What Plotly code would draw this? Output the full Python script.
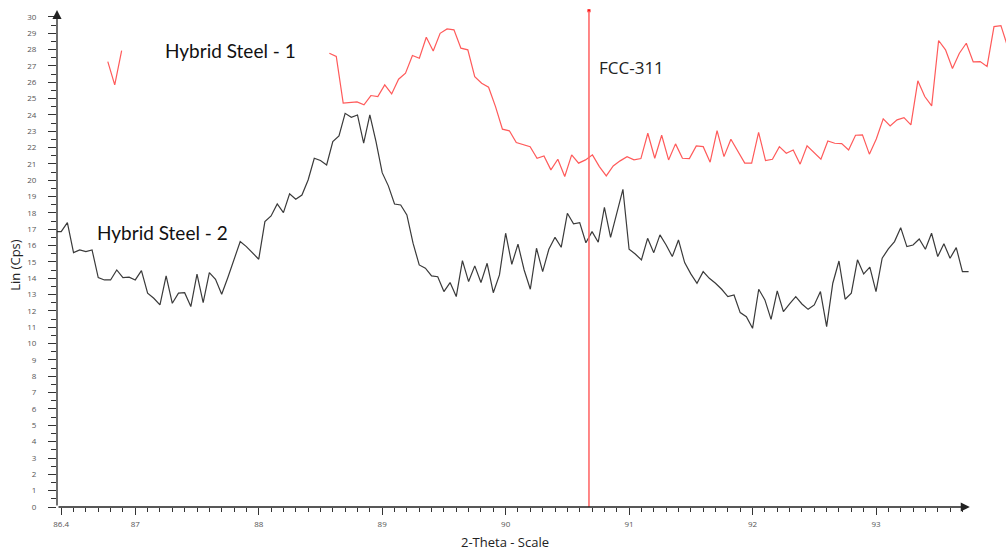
import plotly.graph_objects as go

# ---------------- data ----------------
# Hybrid Steel - 2 (black), regular 2-theta step
black_x0 = 86.35
black_step = 0.05
black_y = [16.86, 16.86, 17.41, 15.57, 15.74, 15.63, 15.74, 14.04, 13.9, 13.9,
           14.51, 14.04, 14.07, 13.9, 14.47, 13.09, 12.78, 12.37, 14.15, 12.47,
           13.09, 13.12, 12.27, 14.25, 12.51, 14.35, 13.94, 13.02, 14.05, 15.2,
           16.25, 15.94, 15.57, 15.17, 17.47, 17.82, 18.55, 18.02, 19.17, 18.84,
           19.1, 20.02, 21.35, 21.21, 20.94, 22.37, 22.72, 24.1, 23.86, 24.0,
           22.27, 24.0, 22.37, 20.47, 19.66, 18.55, 18.49, 17.88, 16.15, 14.82,
           14.62, 14.15, 14.1, 13.19, 13.74, 12.88, 15.08, 13.8, 14.76, 13.74,
           14.92, 13.12, 14.21, 16.76, 14.86, 16.09, 14.51, 13.33, 15.84, 14.41,
           15.78, 16.51, 15.9, 17.98, 17.33, 17.41, 16.18, 16.86, 16.21, 18.35,
           16.51, 17.98, 19.45, 15.78, 15.49, 15.13, 16.45, 15.57, 16.66, 16.04,
           15.33, 16.35, 14.96, 14.27, 13.7, 14.41, 14.0, 13.7, 13.33, 12.88,
           12.98, 11.9, 11.65, 10.94, 13.33, 12.68, 11.49, 13.23, 11.96, 12.43,
           12.88, 12.43, 12.1, 12.37, 13.19, 11.04, 13.7, 15.06, 12.72, 13.09,
           15.13, 14.27, 14.68, 13.19, 15.23, 15.8, 16.25, 17.1, 15.94, 16.04,
           16.41, 15.78, 16.76, 15.33, 16.11, 15.23, 15.88, 14.41, 14.41]

# Hybrid Steel - 1 (red), regular step, gap where hidden
red_x0 = 86.7775
red_step = 0.05608
red_y = ([27.27, 25.84, 27.94] + [None] * 29 +
         [27.78, 27.58, 24.72, 24.78, 24.8, 24.62, 25.19, 25.13, 25.84, 25.29,
          26.19, 26.56, 27.64, 27.47, 28.76, 27.92, 29.0, 29.27, 29.21, 28.09,
          27.99, 26.35, 25.94, 25.7, 24.51, 23.13, 23.03, 22.31, 22.17, 22.06,
          21.35, 21.49, 20.64, 21.29, 20.23, 21.56, 21.05, 21.25, 21.56, 20.84,
          20.27, 20.88, 21.19, 21.45, 21.25, 21.33, 22.88, 21.35, 22.76, 21.25,
          22.23, 21.35, 21.33, 22.11, 22.06, 21.11, 23.04, 21.45, 22.51, 21.76,
          21.05, 21.05, 22.94, 21.21, 21.29, 22.06, 21.66, 21.86, 20.99, 22.11,
          21.7, 21.29, 22.41, 22.27, 22.25, 21.86, 22.76, 22.78, 21.6, 22.53,
          23.76, 23.33, 23.7, 23.84, 23.39, 26.09, 25.13, 24.56, 28.56, 27.99,
          26.84, 27.78, 28.39, 27.25, 27.27, 26.97, 29.41, 29.47, 28.15])

fcc_pos = 90.675
fcc_top = 30.38

x_major_vals = [86.4, 86.5, 87, 87.5, 88, 88.5, 89, 89.5, 90, 90.5, 91, 91.5, 92, 92.5, 93, 93.5]
x_major_text = ["86.4", "", "87", "", "88", "", "89", "", "90", "", "91", "", "92", "", "93", ""]
x_minor_vals = [round(86.4 + 0.1 * k, 2) for k in range(0, 74)]
y_major_vals = list(range(0, 31))
y_minor_vals = [k + 0.5 for k in range(0, 30)]

x_range = [86.366, 94.053]
y_range = [0, 30.61]
x_end = 93.76
y_end = 30.43

black_x = [black_x0 + black_step * j for j in range(len(black_y))]
red_x = [red_x0 + red_step * j for j in range(len(red_y))]

fig = go.Figure()
fig.add_trace(go.Scatter(x=black_x, y=black_y, mode="lines",
                         line=dict(color="#3a3a3a", width=1.2), showlegend=False))
fig.add_trace(go.Scatter(x=red_x, y=red_y, mode="lines", connectgaps=False,
                         line=dict(color="#ff5a5a", width=1.2), showlegend=False))
fig.add_trace(go.Scatter(x=[fcc_pos], y=[fcc_top], mode="markers",
                         marker=dict(symbol="square", size=3, color="#ff0000"),
                         showlegend=False))

fig.add_shape(type="line", x0=fcc_pos, x1=fcc_pos, y0=0, y1=fcc_top, xref="x", yref="y",
              line=dict(color="#ff6a6a", width=1.6))

tickfont = dict(family="Open Sans", size=8, color="#555")

fig.update_xaxes(range=x_range, showgrid=False, zeroline=False, showline=False,
                 tickmode="array", tickvals=x_major_vals, ticktext=x_major_text,
                 ticks="outside", ticklen=7, tickwidth=1, tickcolor="#333",
                 tickfont=tickfont, ticklabelstandoff=2,
                 minor=dict(tickmode="array", tickvals=x_minor_vals, ticks="outside",
                            ticklen=4, tickwidth=1, tickcolor="#333", showgrid=False))
fig.update_yaxes(range=y_range, showgrid=False, zeroline=False, showline=False,
                 tickmode="array", tickvals=y_major_vals,
                 ticks="outside", ticklen=8, tickwidth=1, tickcolor="#333",
                 tickfont=tickfont, ticklabelstandoff=10,
                 minor=dict(tickmode="array", tickvals=y_minor_vals, ticks="outside",
                            ticklen=5, tickwidth=1, tickcolor="#333", showgrid=False))

# axis lines with arrowheads
fig.add_annotation(x=x_end, y=0, ax=x_range[0], ay=0, xref="x", yref="y", axref="x", ayref="y",
                   text="", showarrow=True, arrowhead=2, arrowsize=1.4, arrowwidth=1.3,
                   arrowcolor="#222", standoff=0)
fig.add_annotation(x=x_range[0], y=y_end, ax=x_range[0], ay=0, xref="x", yref="y", axref="x", ayref="y",
                   text="", showarrow=True, arrowhead=2, arrowsize=1.4, arrowwidth=1.3,
                   arrowcolor="#222", standoff=0)

label_font = dict(family="Lato", size=19, color="#111")
fig.add_annotation(x=87.225, y=27.92, xref="x", yref="y", text="Hybrid Steel - 1",
                   showarrow=False, xanchor="left", yanchor="middle", font=label_font)
fig.add_annotation(x=86.674, y=16.78, xref="x", yref="y", text="Hybrid Steel - 2",
                   showarrow=False, xanchor="left", yanchor="middle", font=label_font)
fig.add_annotation(x=90.74, y=26.88, xref="x", yref="y", text="FCC-311",
                   showarrow=False, xanchor="left", yanchor="middle",
                   font=dict(family="Open Sans", size=17, color="#222"))

fig.add_annotation(x=0.4725, y=-0.07, xref="paper", yref="paper", text="2-Theta - Scale",
                   showarrow=False, xanchor="center", yanchor="middle",
                   font=dict(family="Open Sans", size=13, color="#222"))
fig.add_annotation(x=-0.045, y=0.485, xref="paper", yref="paper", text="Lin (Cps)",
                   showarrow=False, textangle=-90, xanchor="center", yanchor="middle",
                   font=dict(family="Open Sans", size=13, color="#222"))

fig.update_layout(width=1006, height=553, margin=dict(l=57, r=0, t=7, b=46),
                  plot_bgcolor="white", paper_bgcolor="white")

fig.write_html("out.html")
